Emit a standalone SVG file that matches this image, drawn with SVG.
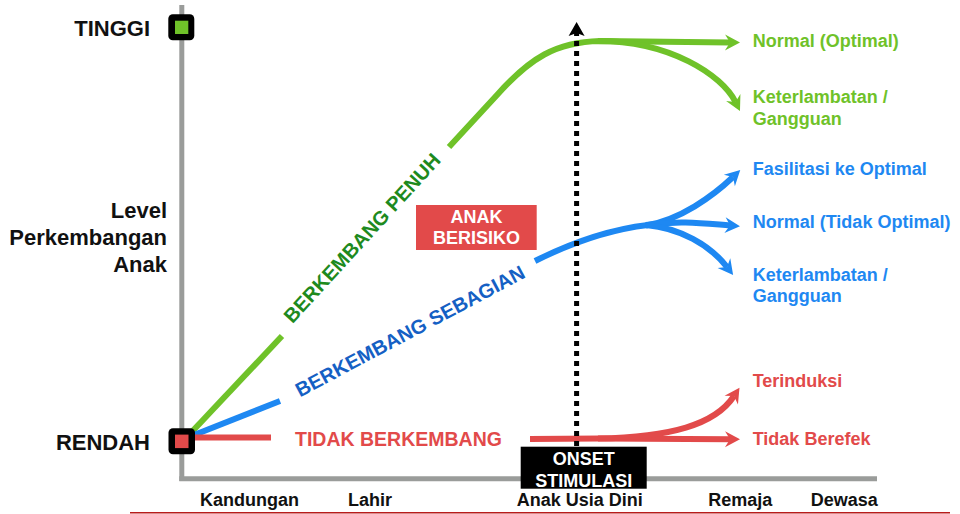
<svg xmlns="http://www.w3.org/2000/svg" width="960" height="514" viewBox="0 0 960 514">
  <style>
    text { font-family: "Liberation Sans", Arial, sans-serif; font-weight: bold; }
    .lvl { font-size: 22px; fill: #111; text-anchor: end; }
    .age { font-size: 18px; fill: #111; }
    .out { font-size: 18px; }
    .g { fill: #6fc229; }
    .b { fill: #1e88f2; }
    .r { fill: #e24a4a; }
    .axis { stroke: #9a9c9a; stroke-width: 5; fill: none; }
    .ln { fill: none; stroke-width: 6; stroke-linecap: butt; }
    .ln-g { stroke: #6fc229; }
    .ln-b { stroke: #1e88f2; }
    .ln-r { stroke: #e24a4a; }
    .band { font-size: 20px; text-anchor: middle; }
    .box-t { font-size: 18px; fill: #fff; text-anchor: middle; }
  </style>
  <defs>
    <marker id="ah-g" markerUnits="userSpaceOnUse" orient="auto" overflow="visible" markerWidth="1" markerHeight="1" refX="0" refY="0">
      <path d="M-5,-8 L10,0 L-5,8 L0,0 Z" fill="#6fc229"/>
    </marker>
    <marker id="ah-b" markerUnits="userSpaceOnUse" orient="auto" overflow="visible" markerWidth="1" markerHeight="1" refX="0" refY="0">
      <path d="M-5,-8 L10,0 L-5,8 L0,0 Z" fill="#1e88f2"/>
    </marker>
    <marker id="ah-r" markerUnits="userSpaceOnUse" orient="auto" overflow="visible" markerWidth="1" markerHeight="1" refX="0" refY="0">
      <path d="M-5,-8 L10,0 L-5,8 L0,0 Z" fill="#e24a4a"/>
    </marker>
    <marker id="ah-k" markerUnits="userSpaceOnUse" orient="auto" overflow="visible" markerWidth="1" markerHeight="1" refX="0" refY="0">
      <path d="M-3,-8 L11,0 L-3,8 L0,0 Z" fill="#000"/>
    </marker>
  </defs>

  <!-- axes -->
  <g id="axes">
    <line class="axis" x1="181.8" y1="5" x2="181.8" y2="481"/>
    <line class="axis" x1="179.3" y1="478.8" x2="877" y2="478.8"/>
    <line x1="130" y1="512.8" x2="950" y2="512.8" stroke="#b81c1c" stroke-width="1.6"/>
  </g>

  <!-- vertical axis labels -->
  <g id="level-labels">
    <text class="lvl" x="150" y="36">TINGGI</text>
    <text class="lvl" x="167" y="218">Level</text>
    <text class="lvl" x="167" y="245">Perkembangan</text>
    <text class="lvl" x="167" y="271.5">Anak</text>
    <text class="lvl" x="150" y="450">RENDAH</text>
  </g>

  <!-- age labels -->
  <g id="age-labels">
    <text class="age" x="200" y="506">Kandungan</text>
    <text class="age" x="348" y="506">Lahir</text>
    <text class="age" x="516.7" y="506">Anak Usia Dini</text>
    <text class="age" x="708.3" y="506">Remaja</text>
    <text class="age" x="810.7" y="506">Dewasa</text>
  </g>

  <!-- trajectories -->
  <g id="connectors">
    <!-- full development -->
    <path class="ln ln-g" d="M187,437 L282,336"/>
    <path class="ln ln-g" d="M449,147 L497,95 C530,58 556,42 600,41 L730,42.5" marker-end="url(#ah-g)"/>
    <path class="ln ln-g" d="M598,41 C670,41 722,75 735.5,102" marker-end="url(#ah-g)"/>
    <!-- partial development -->
    <path class="ln ln-b" d="M189,437 L280,401"/>
    <path class="ln ln-b" d="M535,261 C565,246 605,230 648,225"/>
    <path class="ln ln-b" d="M646,225.5 C680,220 713,196 733,177" marker-end="url(#ah-b)"/>
    <path class="ln ln-b" d="M646,225 C680,220 705,223.5 730,225.5" marker-end="url(#ah-b)"/>
    <path class="ln ln-b" d="M646,225 C680,228 710,245 727,267" marker-end="url(#ah-b)"/>
    <!-- no development -->
    <path class="ln ln-r" d="M190,437.5 L271,437.5"/>
    <path class="ln ln-r" d="M530,439 L600,438.6 L730,439.3" marker-end="url(#ah-r)"/>
    <path class="ln ln-r" d="M598,438.6 C670,437 715,425 734,396" marker-end="url(#ah-r)"/>
    <!-- stimulation onset -->
    <path d="M576.6,446 L576.6,33" fill="none" stroke="#000" stroke-width="5" stroke-dasharray="5 5" marker-end="url(#ah-k)"/>
  </g>

  <!-- band labels -->
  <g id="band-penuh">
    <text class="band" fill="#1e8a1e" transform="translate(362,238) rotate(-47.5)" y="7">BERKEMBANG PENUH</text>
  </g>
  <g id="band-sebagian">
    <text class="band" fill="#1560c4" transform="translate(410,331) rotate(-28)" y="7">BERKEMBANG SEBAGIAN</text>
  </g>
  <g id="band-tidak">
    <text x="295" y="446" font-size="19.5" class="r">TIDAK BERKEMBANG</text>
  </g>

  <!-- risk box -->
  <g id="anak-berisiko">
    <rect x="416" y="205" width="120.7" height="45" fill="#e24a4a"/>
    <text class="box-t" x="476.5" y="223.3">ANAK</text>
    <text class="box-t" x="476.5" y="244.3">BERISIKO</text>
  </g>

  <!-- onset box -->
  <g id="onset-stimulasi">
    <rect x="520.7" y="446.7" width="126" height="42" fill="#000"/>
    <text class="box-t" x="583.7" y="465">ONSET</text>
    <text class="box-t" x="583.7" y="487.3">STIMULASI</text>
  </g>

  <!-- level markers -->
  <g id="marker-tinggi">
    <rect x="168.3" y="14.3" width="26" height="26" rx="4.5" fill="#000"/>
    <rect x="175" y="20.7" width="13.3" height="13.3" fill="#6fc229"/>
  </g>
  <g id="marker-rendah">
    <rect x="168.5" y="428.3" width="26.5" height="26" rx="4.5" fill="#000"/>
    <rect x="175" y="434.6" width="13.5" height="13.5" fill="#e24a4a"/>
  </g>

  <!-- outcomes -->
  <g id="out-optimal">
    <text class="out g" x="752.7" y="46.7">Normal (Optimal)</text>
  </g>
  <g id="out-g-delay">
    <text class="out g" x="752.7" y="102.5">Keterlambatan /</text>
    <text class="out g" x="752.7" y="125">Gangguan</text>
  </g>
  <g id="out-fasilitasi">
    <text class="out b" x="752.7" y="175">Fasilitasi ke Optimal</text>
  </g>
  <g id="out-normal-b">
    <text class="out b" x="752.7" y="228.3">Normal (Tidak Optimal)</text>
  </g>
  <g id="out-b-delay">
    <text class="out b" x="752.7" y="280.5">Keterlambatan /</text>
    <text class="out b" x="752.7" y="301.7">Gangguan</text>
  </g>
  <g id="out-terinduksi">
    <text class="out r" x="752.7" y="387.3">Terinduksi</text>
  </g>
  <g id="out-berefek">
    <text class="out r" x="752.7" y="445">Tidak Berefek</text>
  </g>
</svg>
